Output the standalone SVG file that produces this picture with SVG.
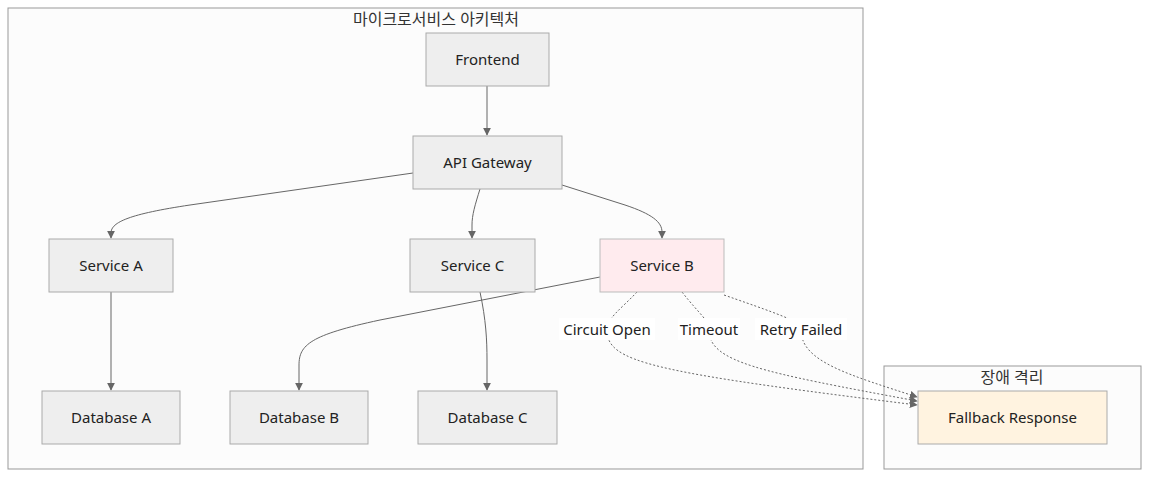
<svg xmlns="http://www.w3.org/2000/svg" width="1158" height="481" viewBox="0 0 1158 481">
<style>
.cl{fill:#fcfcfc;stroke:#999;stroke-width:1}
.n{fill:#eeeeee;stroke:#aaa;stroke-width:1}
.t{font-family:"Noto Sans","Noto Sans CJK KR",sans-serif;font-size:15px;fill:#222;text-anchor:middle;dominant-baseline:central}
.ct{font-family:"Noto Sans","Noto Sans CJK KR",sans-serif;font-size:16px;fill:#333;text-anchor:middle;dominant-baseline:central}
.e{fill:none;stroke:#666;stroke-width:1}
.d{fill:none;stroke:#666;stroke-width:1;stroke-dasharray:2 2}
.lb{fill:#ffffff}
</style>
<defs>
<marker id="ah" viewBox="0 0 10 10" refX="9" refY="5" markerWidth="8" markerHeight="8" orient="auto" markerUnits="userSpaceOnUse">
<path d="M0,0 L10,5 L0,10 z" fill="#666"/>
</marker>
</defs>
<g id="cluster-main">
<rect class="cl" x="8" y="8" width="855" height="461"/>
<text class="ct" x="436" y="18.5">마이크로서비스 아키텍처</text>
</g>
<g id="cluster-isolation">
<rect class="cl" x="884" y="366" width="257" height="103"/>
<text class="ct" x="1012" y="376.5">장애 격리</text>
</g>
<g id="edges">
<path class="e" d="M487,86 L487,135" marker-end="url(#ah)"/>
<path class="e" d="M413,173 L190,205 C130,214 111,222 111,233 L111,238" marker-end="url(#ah)"/>
<path class="e" d="M480,189 C475,205 472,215 472,225 L472,238" marker-end="url(#ah)"/>
<path class="e" d="M562,185 L625,205 C652,214 662,222 662,232 L662,238" marker-end="url(#ah)"/>
<path class="e" d="M111,292 L111,390" marker-end="url(#ah)"/>
<path class="e" d="M600,277 L380,320 C310,335 299,345 299,365 L299,390" marker-end="url(#ah)"/>
<path class="e" d="M480,292 C486,320 487,340 487,360 L487,390" marker-end="url(#ah)"/>
<path class="d" d="M637,292 C620,310 607,318 607,330 C607,362 650,372 917,405" marker-end="url(#ah)"/>
<path class="d" d="M682,292 C700,315 709,320 709,330 C709,362 760,372 917,401" marker-end="url(#ah)"/>
<path class="d" d="M724,295 C790,318 801,322 801,330 C801,362 850,375 917,397" marker-end="url(#ah)"/>
<rect class="lb" x="559" y="318" width="96" height="22"/>
<text class="t" x="607" y="328.5">Circuit Open</text>
<rect class="lb" x="678" y="318" width="62" height="22"/>
<text class="t" x="709" y="328.5">Timeout</text>
<rect class="lb" x="755" y="318" width="92" height="22"/>
<text class="t" x="801" y="328.5">Retry Failed</text>
</g>
<g id="node-frontend"><rect class="n" x="426" y="33" width="123" height="53"/><text class="t" x="487.5" y="58.5">Frontend</text></g>
<g id="node-gateway"><rect class="n" x="413" y="136" width="149" height="53"/><text class="t" x="487.5" y="161.5">API Gateway</text></g>
<g id="node-serviceA"><rect class="n" x="49" y="239" width="124" height="53"/><text class="t" x="111" y="264.5">Service A</text></g>
<g id="node-serviceC"><rect class="n" x="410" y="239" width="125" height="53"/><text class="t" x="472.5" y="264.5">Service C</text></g>
<g id="node-serviceB"><rect x="600" y="239" width="124" height="53" fill="#ffebee" stroke="#bbb"/><text class="t" x="662" y="264.5">Service B</text></g>
<g id="node-dbA"><rect class="n" x="42" y="391" width="138" height="53"/><text class="t" x="111" y="416.5">Database A</text></g>
<g id="node-dbB"><rect class="n" x="230" y="391" width="138" height="53"/><text class="t" x="299" y="416.5">Database B</text></g>
<g id="node-dbC"><rect class="n" x="418" y="391" width="139" height="53"/><text class="t" x="487.5" y="416.5">Database C</text></g>
<g id="node-fallback"><rect x="918" y="391" width="189" height="53" fill="#fff3e0" stroke="#aaa"/><text class="t" x="1012.5" y="416.5">Fallback Response</text></g>
</svg>
